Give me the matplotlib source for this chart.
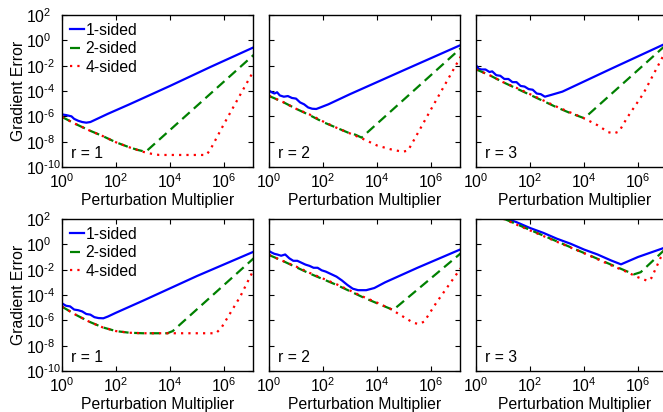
import numpy as np
import matplotlib
matplotlib.use('Agg')
import matplotlib.pyplot as plt
from matplotlib.ticker import FuncFormatter

plt.rcParams['font.family'] = ['Liberation Sans', 'DejaVu Sans']
plt.rcParams['mathtext.fontset'] = 'custom'
plt.rcParams['mathtext.rm'] = 'Liberation Sans'
plt.rcParams['mathtext.it'] = 'Liberation Sans:italic'
plt.rcParams['mathtext.bf'] = 'Liberation Sans:bold'

# Curves as (log10 multiplier, log10 gradient error)
# Top row
top1_one = [(0, -5.85), (0.15, -5.9), (0.25, -5.95), (0.35, -6.0), (0.45, -6.2), (0.6, -6.35),
            (0.75, -6.45), (0.9, -6.5), (1.05, -6.45), (1.3, -6.2), (1.7, -5.8), (2.5, -5.05),
            (4, -3.6), (5.5, -2.1), (7.1, -0.55)]
top1_two = [(0, -6.05), (0.5, -6.6), (1, -7.1), (1.5, -7.55), (2, -8.05), (2.5, -8.45),
            (2.8, -8.65), (3.1, -8.8), (7.1, -1.15)]
top1_four = [(0, -6.05), (0.5, -6.6), (1, -7.1), (1.5, -7.55), (2, -8.05), (2.5, -8.45),
             (3, -8.8), (3.3, -8.95), (3.6, -9.05), (5.35, -9.05), (5.5, -8.6), (6, -6.6),
             (6.6, -4.3), (7.1, -2.4)]

top2_one = [(0, -3.97), (0.1, -4.1), (0.2, -4.2), (0.3, -4.1), (0.4, -4.35), (0.55, -4.45),
            (0.7, -4.4), (0.85, -4.55), (1.0, -4.6), (1.15, -4.9), (1.3, -5.05), (1.45, -5.3),
            (1.6, -5.4), (1.75, -5.42), (1.9, -5.3), (2.2, -5.05), (3, -4.25), (5, -2.35),
            (7.1, -0.37)]
top2_two = [(0, -4.39), (0.5, -4.85), (1, -5.4), (1.5, -5.9), (2, -6.45), (2.5, -6.9),
            (3, -7.35), (3.2, -7.45), (3.43, -7.68), (7.1, -0.63)]
top2_four = [(0, -4.39), (0.5, -4.85), (1, -5.4), (1.5, -5.85), (2, -6.4), (2.5, -6.9),
             (3, -7.35), (3.5, -7.8), (4, -8.3), (4.5, -8.6), (4.95, -8.8), (5.15, -8.7),
             (5.4, -7.75), (6, -5.45), (7.1, -1.29)]

top3_one = [(0, -1.95), (0.1, -2.25), (0.2, -2.3), (0.35, -2.3), (0.5, -2.5), (0.6, -2.45),
            (0.75, -2.75), (0.9, -2.8), (1.05, -3.05), (1.2, -3.05), (1.35, -3.3), (1.5, -3.3),
            (1.65, -3.6), (1.8, -3.65), (1.95, -3.85), (2.1, -3.9), (2.25, -4.2), (2.4, -4.25),
            (2.55, -4.45), (2.8, -4.3), (3.2, -4.05), (5, -2.25), (7.1, -0.18)]
top3_two = [(0, -2.29), (0.5, -2.75), (1, -3.3), (1.5, -3.8), (2, -4.3), (2.5, -4.8),
            (3, -5.3), (3.5, -5.75), (4.01, -6.15), (7.1, -0.24)]
top3_four = [(0, -2.29), (0.5, -2.75), (1, -3.3), (1.5, -3.75), (2, -4.25), (2.5, -4.75),
             (3, -5.25), (3.5, -5.7), (4, -6.15), (4.5, -6.7), (4.9, -7.25), (5.1, -7.35),
             (5.3, -7.2), (5.6, -6.1), (6.2, -4.2), (7.1, -0.55)]

# Bottom row
bot1_one = [(0, -4.66), (0.15, -4.85), (0.3, -4.9), (0.45, -5.15), (0.6, -5.2), (0.75, -5.3),
            (0.9, -5.5), (1.05, -5.55), (1.2, -5.75), (1.35, -5.82), (1.53, -5.84), (1.7, -5.7),
            (2, -5.4), (3, -4.45), (5, -2.5), (7.1, -0.58)]
bot1_two = [(0, -4.92), (0.5, -5.55), (1, -6.1), (1.5, -6.55), (2, -6.85), (2.5, -6.98),
            (3, -7.02), (3.9, -7.02), (4.1, -6.85), (7.1, -1.1)]
bot1_four = [(0, -4.92), (0.5, -5.55), (1, -6.1), (1.5, -6.55), (2, -6.85), (2.5, -6.98),
             (3, -7.02), (5.7, -7.02), (5.9, -6.6), (6.6, -4.13), (7.1, -2.0)]

bot2_one = [(0, -0.53), (0.1, -0.65), (0.2, -0.75), (0.3, -0.8), (0.45, -0.9), (0.6, -0.8),
            (0.75, -1.1), (0.9, -1.3), (1.05, -1.3), (1.2, -1.45), (1.35, -1.6), (1.5, -1.7),
            (1.65, -1.85), (1.8, -1.85), (1.95, -2.05), (2.1, -2.15), (2.3, -2.35), (2.5, -2.55),
            (2.7, -2.85), (2.9, -3.2), (3.1, -3.5), (3.3, -3.62), (3.6, -3.62), (3.9, -3.45),
            (4.3, -3.0), (5.5, -1.85), (7.1, -0.39)]
bot2_two = [(0, -0.84), (0.5, -1.3), (1, -1.8), (1.5, -2.3), (2, -2.75), (2.5, -3.2),
            (3, -3.7), (3.5, -4.2), (4, -4.65), (4.6, -5.18), (7.1, -0.71)]
bot2_four = [(0, -0.84), (0.5, -1.3), (1, -1.75), (1.5, -2.25), (2, -2.7), (2.5, -3.15),
             (3, -3.65), (3.5, -4.15), (4, -4.6), (4.5, -5.1), (5, -5.75), (5.35, -6.2),
             (5.55, -6.29), (5.75, -6.1), (6.2, -4.6), (7.1, -1.89)]

bot3_one = [(0, 3.0), (1, 2.14), (1.5, 1.75), (2, 1.29), (2.5, 0.9), (3, 0.44), (3.5, 0.05),
            (4, -0.41), (4.5, -0.8), (5, -1.27), (5.37, -1.58), (6, -1.0), (7.1, -0.18)]
bot3_two = [(0, 2.96), (1, 2.05), (2, 1.14), (3, 0.23), (4, -0.68), (5, -1.6), (5.5, -2.05),
            (5.85, -2.37), (6.1, -2.2), (7.1, -0.2)]
bot3_four = [(0, 2.96), (1, 2.02), (2, 1.1), (3, 0.2), (4, -0.7), (5, -1.65), (5.5, -2.1),
             (6, -2.6), (6.36, -2.89), (6.5, -2.65), (6.85, -1.0), (7.1, -0.1)]

panels = [
    [(top1_one, top1_two, top1_four), (top2_one, top2_two, top2_four), (top3_one, top3_two, top3_four)],
    [(bot1_one, bot1_two, bot1_four), (bot2_one, bot2_two, bot2_four), (bot3_one, bot3_two, bot3_four)],
]
r_labels = ['r = 1', 'r = 2', 'r = 3']
series_names = ['1-sided', '2-sided', '4-sided']
colors = ['#0000ff', '#008000', '#ff0000']
styles = ['-', (0, (4.5, 2.5)), (0, (1, 2.3))]


def pow10_label(v, pos):
    # short hyphen in the exponent, like the original figure
    e = int(round(np.log10(v)))
    s = str(e).replace('-', '\u2010')
    return r'$\mathdefault{10^{%s}}$' % s


fig = plt.figure(figsize=(6.63, 4.12), dpi=100)
fs = 11.3
px_per_decade = 27.0
lefts = [62, 269, 476]
bottoms = [167, 371]
w_px = 191
h_px = 152

left_axes = []
for row in range(2):
    for col in range(3):
        # last column runs off the right edge of the figure
        wp = w_px + (6 if col == 2 else 0)
        ax = fig.add_axes([lefts[col] / 663, (412 - bottoms[row]) / 412, wp / 663, h_px / 412])
        for k, pts in enumerate(panels[row][col]):
            pts = np.array(pts)
            ax.plot(10 ** pts[:, 0], 10 ** pts[:, 1], color=colors[k], linestyle=styles[k],
                    linewidth=1.6, label=series_names[k])
        ax.set_xscale('log')
        ax.set_yscale('log')
        ax.set_xlim(1, 10 ** (wp / px_per_decade))
        ax.set_ylim(1e-10, 1e2)
        ax.set_xticks([1e0, 1e2, 1e4, 1e6])
        ax.set_yticks([1e-10, 1e-8, 1e-6, 1e-4, 1e-2, 1e0, 1e2])
        ax.minorticks_off()
        ax.xaxis.set_major_formatter(FuncFormatter(pow10_label))
        ax.yaxis.set_major_formatter(FuncFormatter(pow10_label))
        ax.tick_params(direction='in', length=3.5, width=0.8, top=True, right=True,
                       labelsize=fs)
        ax.tick_params(axis='x', pad=4)
        for s in ax.spines.values():
            s.set_linewidth(1.0)
        if col > 0:
            ax.set_yticklabels([])
        else:
            # MATLAB-style: exponent labels left-aligned in a column
            ax.tick_params(axis='y', pad=26)
            left_axes.append(ax)
            ax.set_ylabel('Gradient Error', fontsize=fs, labelpad=0)
            ax.legend(loc='upper left', frameon=False, fontsize=fs, handlelength=0.9,
                      handletextpad=0.1, labelspacing=0.22, borderaxespad=0.3,
                      borderpad=0.2)
        ax.set_xlabel('Perturbation Multiplier', fontsize=fs, labelpad=1)
        ax.text(0.045, 0.04, r_labels[col], transform=ax.transAxes, fontsize=fs,
                ha='left', va='bottom')

fig.canvas.draw()
for ax in left_axes:
    for lab in ax.get_yticklabels():
        lab.set_horizontalalignment('left')

fig.savefig('out.png', dpi=100)
